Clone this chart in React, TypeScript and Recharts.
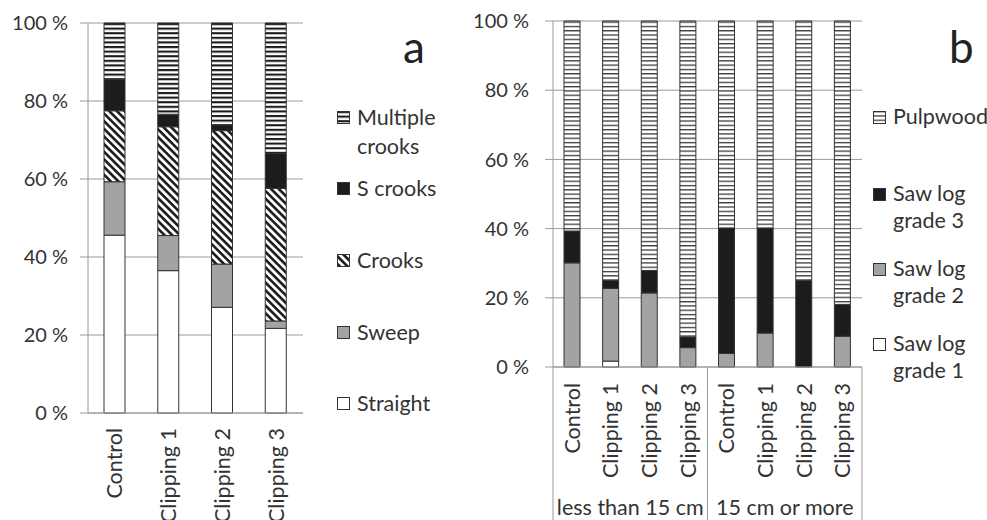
import React from 'react';
import { BarChart, Bar, XAxis, YAxis, CartesianGrid, Legend } from 'recharts';

// panel a: stem form, share of trees (%)
const categoriesA = ['Control', 'Clipping 1', 'Clipping 2', 'Clipping 3'];
const straight = [45.6, 36.5, 27.1, 21.7];
const sweep = [13.7, 9.0, 11.1, 1.9];
const crooks = [18.2, 27.9, 34.2, 34.0];
const sCrooks = [8.1, 3.2, 1.5, 9.0];
const multipleCrooks = [14.4, 23.4, 26.1, 33.4];

// panel b: timber assortments by diameter class (%)
const categoriesB = ['Control', 'Clipping 1', 'Clipping 2', 'Clipping 3', 'Control', 'Clipping 1', 'Clipping 2', 'Clipping 3'];
const groupsB = ['less than 15 cm', '15 cm or more'];
const grade1 = [0, 1.7, 0, 0, 0, 0, 0, 0];
const grade2 = [30.1, 21.0, 21.4, 5.6, 3.9, 9.8, 0, 8.9];
const grade3 = [9.2, 2.4, 6.5, 3.1, 36.3, 30.4, 25.1, 9.2];
const pulpwood = [60.7, 74.9, 72.1, 91.3, 59.8, 59.8, 74.9, 81.9];

const yTicks = [0, 20, 40, 60, 80, 100];

const FONT = 'Lato, "Open Sans", sans-serif';
const TEXT = '#333';
const GRID = '#9a9a9a';
const EDGE = '#333';
const LABEL_SIZE = 21.5;

const dataA = categoriesA.map((c, i) => ({
  name: c,
  straight: straight[i],
  sweep: sweep[i],
  crooks: crooks[i],
  sCrooks: sCrooks[i],
  multiple: multipleCrooks[i],
}));

const dataB = categoriesB.map((c, i) => ({
  name: c,
  g1: grade1[i],
  g2: grade2[i],
  g3: grade3[i],
  pulp: pulpwood[i],
}));

const seriesA = [
  { key: 'straight', label: ['Straight'], fill: '#ffffff' },
  { key: 'sweep', label: ['Sweep'], fill: '#a3a3a3' },
  { key: 'crooks', label: ['Crooks'], fill: 'url(#diag)' },
  { key: 'sCrooks', label: ['S crooks'], fill: '#1c1c1c' },
  { key: 'multiple', label: ['Multiple', 'crooks'], fill: 'url(#hstripe)' },
];

const seriesB = [
  { key: 'g1', label: ['Saw log', 'grade 1'], fill: '#ffffff' },
  { key: 'g2', label: ['Saw log', 'grade 2'], fill: '#a3a3a3' },
  { key: 'g3', label: ['Saw log', 'grade 3'], fill: '#1c1c1c' },
  { key: 'pulp', label: ['Pulpwood'], fill: 'url(#pulp)' },
];

const Patterns = () => (
  <svg width={0} height={0} style={{ position: 'absolute' }}>
    <defs>
      <pattern id="hstripe" patternUnits="userSpaceOnUse" width={10} height={4.6}>
        <rect width={10} height={4.6} fill="#fff" />
        <rect width={10} height={2.1} fill="#1a1a1a" />
      </pattern>
      <pattern id="pulp" patternUnits="userSpaceOnUse" width={10} height={4.3}>
        <rect width={10} height={4.3} fill="#fff" />
        <rect width={10} height={1.3} fill="#3a3a3a" />
      </pattern>
      <pattern id="diag" patternUnits="userSpaceOnUse" width={10} height={5.4} patternTransform="rotate(45)">
        <rect width={10} height={5.4} fill="#fff" />
        <rect width={10} height={2.6} fill="#1a1a1a" />
      </pattern>
    </defs>
  </svg>
);

const yFmt = (v: number) => `${v} %`;

const RotTick = (props: any) => {
  const { x, y, payload } = props;
  return (
    <text
      x={x}
      y={y + 15}
      transform={`rotate(-90 ${x} ${y + 15})`}
      textAnchor="end"
      dy="0.35em"
      fill={TEXT}
      fontSize={LABEL_SIZE}
      fontFamily={FONT}
    >
      {payload.value}
    </text>
  );
};

const GroupTick = (props: any) => {
  const { x, y, index, width, visibleTicksCount } = props;
  const band = width && visibleTicksCount ? width / visibleTicksCount : 38.6;
  const per = categoriesB.length / groupsB.length;
  const g = Math.floor(index / per);
  const isFirst = index % per === 0;
  const isLast = index === categoriesB.length - 1;
  return (
    <g>
      <RotTick {...props} y={y + 1} />
      {isFirst && <line x1={x - band / 2} x2={x - band / 2} y1={y} y2={y + 160} stroke={GRID} />}
      {isLast && <line x1={x + band / 2} x2={x + band / 2} y1={y} y2={y + 160} stroke={GRID} />}
      {isFirst && (
        <text
          x={x + band * (per - 1) / 2}
          y={y + 148}
          textAnchor="middle"
          fill={TEXT}
          fontSize={LABEL_SIZE}
          fontFamily={FONT}
        >
          {groupsB[g]}
        </text>
      )}
    </g>
  );
};

const Swatch = ({ fill }: { fill: string }) => (
  <svg width={13} height={13} style={{ display: 'block' }}>
    <rect x={0.5} y={0.5} width={12} height={12} fill={fill} stroke={EDGE} />
  </svg>
);

const makeLegend = (series: typeof seriesA, tops: number[], lh: number) => () => (
  <div style={{ position: 'relative', fontFamily: FONT, fontSize: LABEL_SIZE, color: TEXT }}>
    {[...series].reverse().map((s, i) => (
      <div key={s.key} style={{ position: 'absolute', top: tops[i], left: 0, display: 'flex', alignItems: 'flex-start' }}>
        <div style={{ marginTop: 8, marginRight: 7 }}>
          <Swatch fill={s.fill} />
        </div>
        <div style={{ lineHeight: `${lh}px`, whiteSpace: 'nowrap' }}>
          {s.label.map((l) => (
            <div key={l}>{l}</div>
          ))}
        </div>
      </div>
    ))}
  </div>
);

const LegendA = makeLegend(seriesA, [0, 71, 143, 215, 286], 29);
const LegendB = makeLegend(seriesB, [0, 77, 152, 227], 27);

export default function App() {
  return (
    <div style={{ position: 'absolute', left: 0, top: 0, width: 987, height: 520, background: '#fff', fontFamily: FONT }}>
      <Patterns />
      <div style={{ position: 'absolute', left: 0, top: 0 }}>
        <BarChart width={460} height={520} data={dataA} margin={{ top: 23, right: 157, left: 0, bottom: 0 }} barSize={21}>
          <CartesianGrid vertical={false} stroke={GRID} />
          <XAxis dataKey="name" height={107} tick={<RotTick />} tickLine={false} tickSize={0} tickMargin={0} axisLine={{ stroke: GRID }} interval={0} />
          <YAxis
            width={88}
            domain={[0, 100]}
            ticks={yTicks}
            tickFormatter={yFmt}
            tickSize={8}
            tickMargin={12}
            tickLine={{ stroke: GRID }}
            axisLine={{ stroke: GRID }}
            tick={{ fill: TEXT, fontSize: 20, fontFamily: FONT }}
          />
          {seriesA.map((s) => (
            <Bar key={s.key} dataKey={s.key} name={s.label.join(' ')} stackId="a" fill={s.fill} stroke={EDGE} strokeWidth={1} isAnimationActive={false} />
          ))}
          <Legend content={<LegendA />} wrapperStyle={{ position: 'absolute', left: 337, top: 103, width: 120 }} />
        </BarChart>
      </div>
      <div style={{ position: 'absolute', left: 460, top: 0 }}>
        <BarChart width={527} height={520} data={dataB} margin={{ top: 21, right: 125, left: 0, bottom: 0 }} barSize={16}>
          <CartesianGrid vertical={false} stroke={GRID} />
          <XAxis dataKey="name" height={153} tick={<GroupTick />} tickLine={false} tickSize={0} tickMargin={0} axisLine={{ stroke: GRID }} interval={0} allowDuplicatedCategory />
          <YAxis
            width={93}
            domain={[0, 100]}
            ticks={yTicks}
            tickFormatter={yFmt}
            tickSize={8}
            tickMargin={16}
            tickLine={{ stroke: GRID }}
            axisLine={{ stroke: GRID }}
            tick={{ fill: TEXT, fontSize: 20, fontFamily: FONT }}
          />
          {seriesB.map((s) => (
            <Bar key={s.key} dataKey={s.key} name={s.label.join(' ')} stackId="b" fill={s.fill} stroke={EDGE} strokeWidth={1} isAnimationActive={false} />
          ))}
          <Legend content={<LegendB />} wrapperStyle={{ position: 'absolute', left: 413, top: 103, width: 114 }} />
        </BarChart>
      </div>
      <div style={{ position: 'absolute', left: 403, top: 21, fontSize: 44, color: '#222', lineHeight: '50px' }}>a</div>
      <div style={{ position: 'absolute', left: 949, top: 21, fontSize: 44, color: '#222', lineHeight: '50px' }}>b</div>
    </div>
  );
}
